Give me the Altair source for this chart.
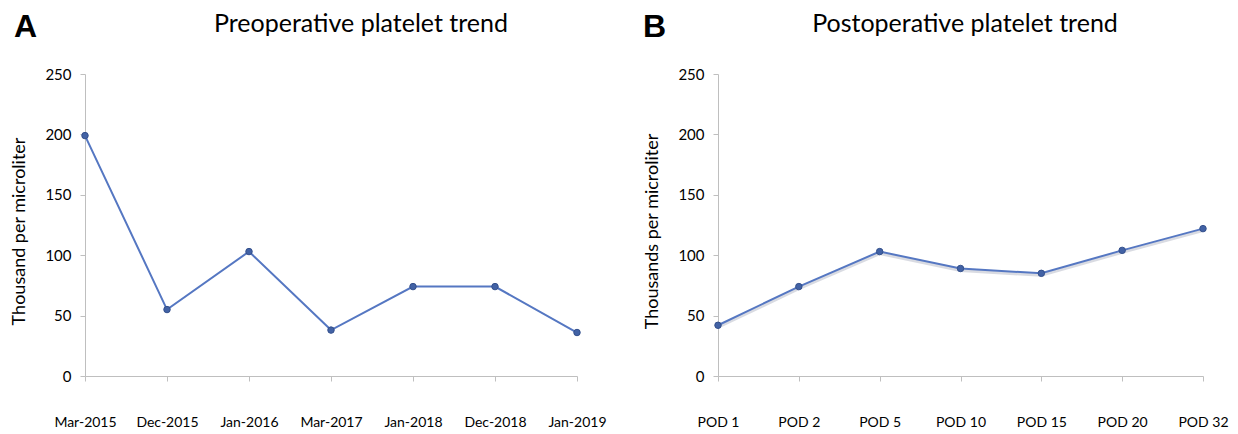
import altair as alt
import pandas as pd

pre_dates = ["Mar-2015", "Dec-2015", "Jan-2016", "Mar-2017", "Jan-2018", "Dec-2018", "Jan-2019"]
pre_values = [199, 55, 103, 38, 74, 74, 36]

post_days = ["POD 1", "POD 2", "POD 5", "POD 10", "POD 15", "POD 20", "POD 32"]
post_values = [42, 74, 103, 89, 85, 104, 122]

y_ticks = [0, 50, 100, 150, 200, 250]

LINE = "#5577c2"
PT = "#4262a5"
PT_STROKE = "#34508c"
AXIS_GRAY = "#bfbfbf"
FONT = "Lato"


def panel(cats, vals, letter, title, ytitle, title_x, letter_x, width, xfs, shadow=False):
    df = pd.DataFrame({"cat": cats, "value": vals})
    xenc = alt.X(
        "cat:N", sort=cats,
        scale=alt.Scale(type="point", padding=0),
        axis=alt.Axis(title=None, labelAngle=0, labelFont=FONT, labelFontSize=xfs,
                      labelColor="black", labelPadding=34, tickSize=5,
                      tickColor=AXIS_GRAY, domainColor=AXIS_GRAY, grid=False),
    )
    yenc = alt.Y(
        "value:Q",
        scale=alt.Scale(domain=[0, 250], nice=False),
        axis=alt.Axis(title=ytitle, values=y_ticks, labelFont=FONT, labelFontSize=15,
                      labelColor="black", labelPadding=9, tickSize=5,
                      tickColor=AXIS_GRAY, domainColor=AXIS_GRAY, grid=False,
                      titleFont=FONT, titleFontSize=18, titleFontWeight="normal",
                      titleColor="black", titlePadding=16, titleY=157),
    )
    base = alt.Chart(df).encode(x=xenc, y=yenc)
    layers = []
    if shadow:
        layers.append(base.mark_line(color="#c9ccd6", strokeWidth=3, opacity=0.7, yOffset=2))
    layers.append(base.mark_line(color=LINE, strokeWidth=2))
    layers.append(base.mark_circle(size=42, color=PT, opacity=1, stroke=PT_STROKE, strokeWidth=1))
    lab = alt.Chart(pd.DataFrame({"t": [letter]})).mark_text(
        font="Liberation Sans", fontWeight="bold", fontSize=32, align="left", baseline="top",
        color="black"
    ).encode(x=alt.value(letter_x), y=alt.value(-62), text="t:N")
    ttl = alt.Chart(pd.DataFrame({"t": [title]})).mark_text(
        font=FONT, fontSize=25, align="center", baseline="top", color="black"
    ).encode(x=alt.value(title_x), y=alt.value(-62), text="t:N")
    layers += [lab, ttl]
    return alt.layer(*layers).properties(width=width, height=302)


a = panel(pre_dates, pre_values, "A", "Preoperative platelet trend",
          "Thousand per microliter", 276, -71, 492, 14)
b = panel(post_days, post_values, "B", "Postoperative platelet trend",
          "Thousands per microliter", 247, -75, 485, 14, shadow=True)

chart = alt.hconcat(a, b, spacing=36).properties(
    padding={"left": 2, "top": 3, "right": 0, "bottom": 0}
).configure_view(stroke=None)

chart.save("out.html", embed_options={"renderer": "svg", "actions": False})
